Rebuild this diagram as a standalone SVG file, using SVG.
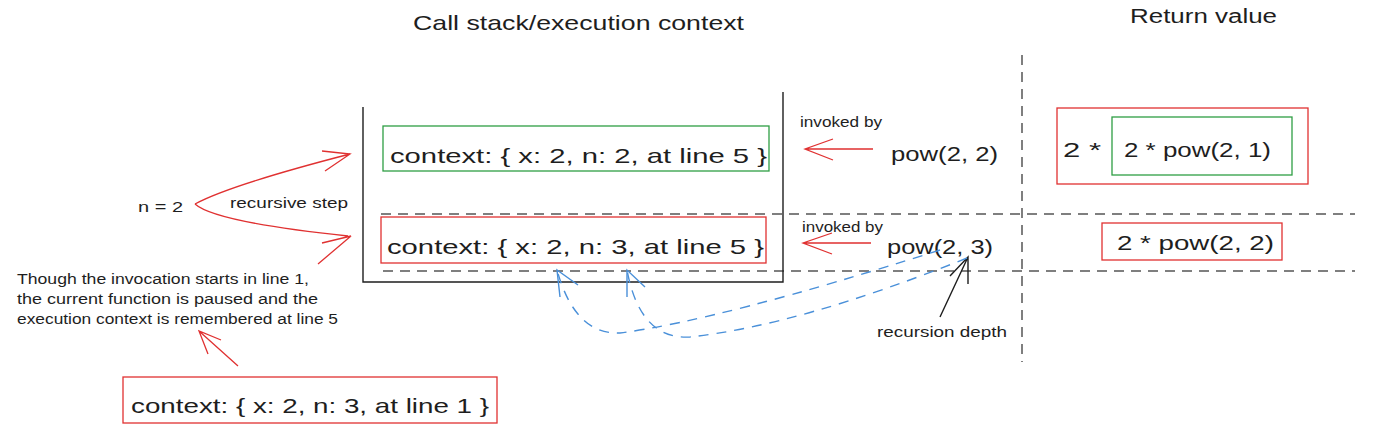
<svg xmlns="http://www.w3.org/2000/svg" width="1388" height="432" viewBox="0 0 1388 432">
<style>
text{font-family:"Liberation Sans",Arial,sans-serif;fill:#1e1e1e}
.big{font-size:21px}
.mid{font-size:20px}
.sm{font-size:15px}
.note{font-size:14px}
.red{fill:none;stroke:#e03131;stroke-width:1.3}
.green{fill:none;stroke:#2f9e44;stroke-width:1.3}
.blk{fill:none;stroke:#1e1e1e;stroke-width:1.4}
.dash{fill:none;stroke:#555;stroke-width:1.5;stroke-dasharray:10 7}
.blue{fill:none;stroke:#4a90d9;stroke-width:1.4;stroke-dasharray:10 8}
.bluehead{fill:none;stroke:#4a90d9;stroke-width:1.4}
</style>
<rect width="1388" height="432" fill="#fff"/>

<g id="titles">
<text class="big" x="413" y="30" textLength="331" lengthAdjust="spacingAndGlyphs">Call stack/execution context</text>
<text class="mid" x="1130" y="23" textLength="147" lengthAdjust="spacingAndGlyphs">Return value</text>
</g>

<g id="dividers">
<line class="dash" x1="1022" y1="55" x2="1022" y2="362"/>
<line class="dash" x1="381" y1="214" x2="1355" y2="214"/>
<line class="dash" x1="383" y1="271" x2="1355" y2="271"/>
</g>

<g id="stack">
<path class="blk" d="M363,107 L363,282 L783,282 L783,92"/>
</g>

<g id="ctx-n2">
<rect class="green" x="383" y="126" width="386" height="45"/>
<text class="big" x="390" y="163" textLength="377" lengthAdjust="spacingAndGlyphs">context: { x: 2, n: 2, at line 5 }</text>
</g>

<g id="ctx-n3">
<rect class="red" x="381" y="217" width="385" height="46"/>
<text class="big" x="387" y="254" textLength="377" lengthAdjust="spacingAndGlyphs">context: { x: 2, n: 3, at line 5 }</text>
</g>

<g id="ctx-line1">
<rect class="red" x="123" y="377" width="374" height="46"/>
<text class="big" x="131" y="413" textLength="358" lengthAdjust="spacingAndGlyphs">context: { x: 2, n: 3, at line 1 }</text>
</g>

<g id="call-pow22">
<text class="mid" x="891" y="161" textLength="107" lengthAdjust="spacingAndGlyphs">pow(2, 2)</text>
</g>
<g id="call-pow23">
<text class="mid" x="887" y="254" textLength="106" lengthAdjust="spacingAndGlyphs">pow(2, 3)</text>
</g>

<g id="ret-outer">
<rect class="red" x="1057" y="108" width="251" height="76"/>
<text class="big" x="1063" y="157" textLength="38" lengthAdjust="spacingAndGlyphs">2 *</text>
</g>
<g id="ret-inner">
<rect class="green" x="1112" y="117" width="180" height="58"/>
<text class="big" x="1124" y="157" textLength="147" lengthAdjust="spacingAndGlyphs">2 * pow(2, 1)</text>
</g>
<g id="ret-n3">
<rect class="red" x="1102" y="223" width="180" height="37"/>
<text class="big" x="1117" y="250" textLength="157" lengthAdjust="spacingAndGlyphs">2 * pow(2, 2)</text>
</g>

<g id="labels">
<text class="sm" x="800" y="127" textLength="82" lengthAdjust="spacingAndGlyphs">invoked by</text>
<text class="sm" x="802" y="232" textLength="81" lengthAdjust="spacingAndGlyphs">invoked by</text>
<text class="sm" x="877" y="337" textLength="130" lengthAdjust="spacingAndGlyphs">recursion depth</text>
<text class="sm" x="138" y="212" textLength="45" lengthAdjust="spacingAndGlyphs">n = 2</text>
<text class="sm" x="230" y="208" textLength="118" lengthAdjust="spacingAndGlyphs">recursive step</text>
<text class="note" x="17" y="284" textLength="292" lengthAdjust="spacingAndGlyphs">Though the invocation starts in line 1,</text>
<text class="note" x="17" y="304" textLength="301" lengthAdjust="spacingAndGlyphs">the current function is paused and the</text>
<text class="note" x="17" y="324" textLength="321" lengthAdjust="spacingAndGlyphs">execution context is remembered at line 5</text>
</g>

<g id="connectors">
<path class="red" d="M873,149 L805,149 M833,139 L805,149 L833,160"/>
<path class="red" d="M871,243 L803,243 M832,233 L803,243 L832,254"/>
<path class="red" d="M195,204 Q230,185 350,154 M322,151 L350,154 L325,171"/>
<path class="red" d="M195,204 Q215,222 348,236 M322,243 L351,236 L318,264"/>
<path class="red" d="M238,366 L199,331 M221,340 L199,331 L208,354"/>
<path class="blk" d="M940,317 L968,257 M950,276 L968,257 L968,284"/>
<path class="blue" d="M940,250 Q720,320 620,333 Q575,335 557,270"/>
<path class="bluehead" d="M560,297 L557,270 L578,285"/>
<path class="blue" d="M967,258 Q800,325 690,337 Q640,340 627,270"/>
<path class="bluehead" d="M627,297 L627,270 L645,287"/>
</g>
</svg>
